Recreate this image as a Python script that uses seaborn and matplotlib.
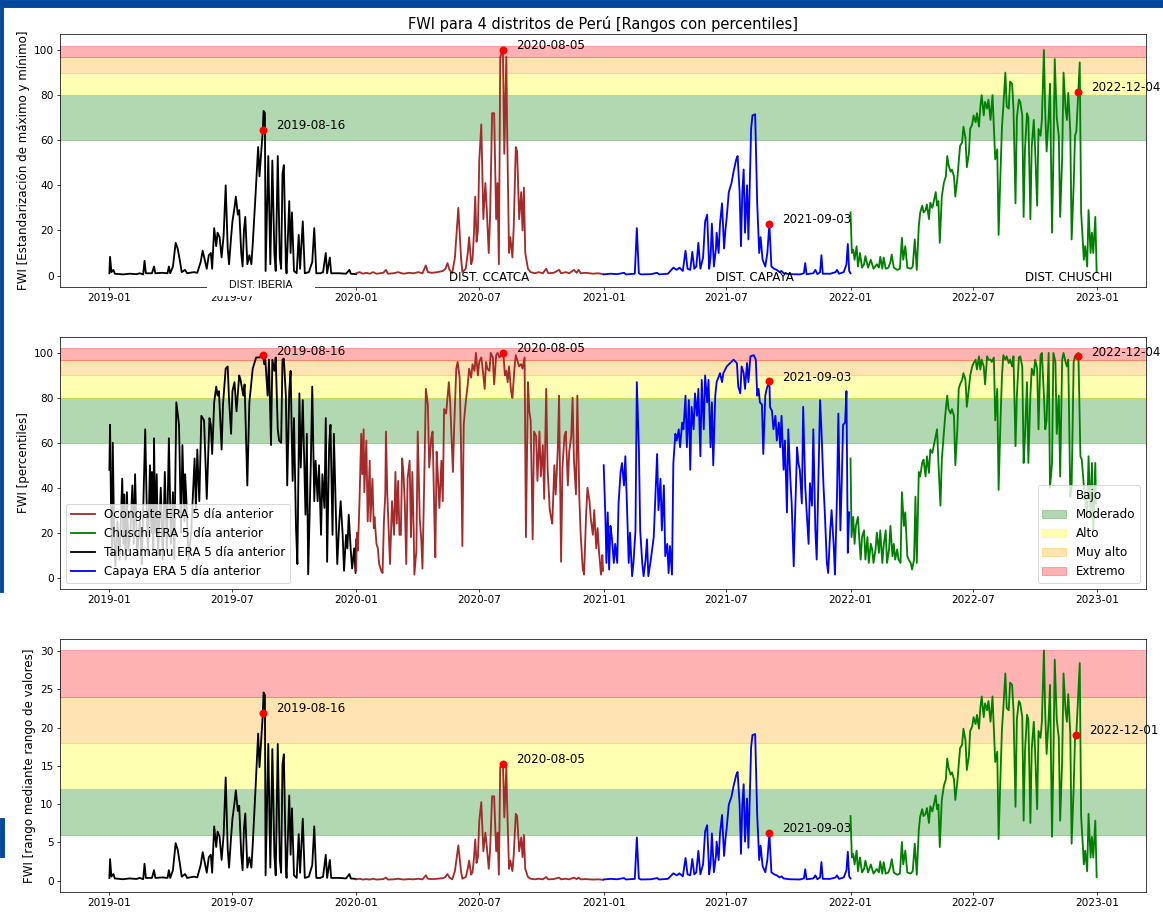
import pandas as pd
import numpy as np
import matplotlib
matplotlib.use('Agg')
import matplotlib.pyplot as plt
import matplotlib.dates as mdates
import seaborn as sns
from matplotlib.lines import Line2D
from matplotlib.patches import Rectangle

# ==================================================
# DATOS  -> (dia del anio, valor)
# ==================================================

distritos = ['Tahuamanu', 'Ocongate', 'Capaya', 'Chuschi']
anios = [2019, 2020, 2021, 2022]
colores = {'Tahuamanu': 'black', 'Ocongate': 'brown', 'Capaya': 'blue', 'Chuschi': 'green'}
fwi_max = [33.7, 15.3, 26.8, 30.1]   # FWI maximo por distrito (para rango de valores)

# FWI estandarizado (max-min) en %
tah_norm = [(0, 1), (1, 8.3), (3, 1.5), (6, 2.5), (8, 0.8), (20, 0.5), (30, 0.8), (40, 0.6), (45, 1),
            (50, 0.5), (52, 6.5), (54, 1), (63, 1), (66, 4), (68, 1), (78, 1.2), (86, 1), (88, 4), (90, 1),
            (94, 4), (98, 14.5), (101, 12), (104, 7), (107, 1.5), (112, 2.5), (115, 1), (125, 1.5),
            (130, 1.2), (135, 6), (138, 11), (141, 7), (144, 3), (147, 9), (150, 10), (152, 3), (155, 21),
            (158, 13), (160, 19), (163, 17), (166, 8), (169, 18), (172, 40), (175, 12), (177, 5), (180, 17),
            (182, 24), (185, 30), (187, 35), (190, 27), (192, 29), (195, 10), (197, 4), (199, 20), (201, 26),
            (204, 5), (207, 9), (210, 5), (212, 14), (216, 35), (220, 57), (222, 44), (227, 65), (228, 73),
            (230, 72), (231, 2), (235, 53), (238, 5), (241, 51), (244, 10), (246, 2), (249, 53), (252, 8),
            (254, 3), (256, 45), (258, 49), (261, 5), (262, 1), (266, 33), (268, 10), (270, 28), (273, 2),
            (277, 1), (280, 18), (282, 3), (286, 24), (289, 1), (295, 1.5), (300, 6), (303, 21), (306, 1),
            (312, 1), (316, 1.5), (320, 10), (322, 1), (326, 8), (328, 1), (340, 1), (350, 0.8), (355, 2.5),
            (357, 0.8), (365, 0.6)]
oco_norm = [(0, 1), (5, 1.5), (10, 0.8), (15, 1.2), (20, 0.8), (25, 1.5), (30, 0.8), (35, 1), (40, 1.2),
            (44, 2.5), (47, 0.8), (55, 1), (62, 1.5), (70, 0.8), (78, 1.2), (85, 1), (92, 1.5), (98, 1),
            (103, 4.5), (106, 1.5), (112, 1.2), (120, 1.5), (128, 2), (132, 3), (135, 5.5), (138, 2.5),
            (142, 1), (146, 8), (151, 30), (155, 8), (157, 1.5), (162, 3), (165, 10), (167, 17), (170, 5),
            (172, 7), (174, 18), (176, 35), (178, 15), (180, 20), (182, 51), (185, 67), (188, 25), (191, 41),
            (193, 30), (196, 10), (198, 26), (201, 72), (204, 72), (207, 25), (209, 41), (211, 5), (213, 97),
            (217, 100), (219, 54), (222, 97), (223, 69), (226, 10), (228, 17), (231, 8), (233, 22), (236, 57),
            (238, 55), (241, 25), (244, 37), (246, 20), (248, 39), (250, 10), (254, 3), (258, 1.5), (264, 1),
            (270, 1.5), (276, 1), (281, 3), (284, 1), (292, 1.2), (300, 2.5), (303, 1), (310, 1.5), (315, 1),
            (322, 2.5), (326, 1.2), (329, 2.5), (332, 1), (340, 1.2), (350, 0.8), (358, 1), (365, 0.6)]
cap_norm = [(0, 0.5), (10, 0.8), (20, 0.6), (30, 1.2), (33, 0.5), (46, 0.8), (49, 21), (52, 1), (55, 0.5),
            (70, 0.6), (79, 1.2), (82, 0.5), (95, 0.8), (100, 2.5), (103, 3.5), (108, 2.5), (112, 3.5),
            (117, 2), (121, 11), (124, 3), (128, 2.5), (131, 10.5), (134, 3), (137, 4), (140, 14.5), (143, 3),
            (147, 8), (150, 24), (153, 27), (156, 3), (158, 8), (160, 23), (163, 4), (166, 12), (167, 19),
            (170, 10), (172, 23), (175, 32), (178, 12), (180, 20), (182, 26), (185, 37), (189, 41), (192, 46),
            (196, 51.5), (198, 53), (201, 37), (203, 13), (205, 37), (207, 47), (209, 19), (212, 40), (214, 16),
            (216, 40), (218, 65), (220, 71), (224, 71.5), (227, 32), (230, 10), (232, 17), (235, 7), (239, 4),
            (242, 10), (245, 23), (248, 4), (252, 3), (256, 2.5), (260, 1.5), (263, 2), (266, 1), (275, 0.6),
            (290, 0.5), (296, 1), (298, 5.5), (300, 0.6), (310, 1), (313, 2.5), (316, 0.6), (320, 1.5),
            (322, 9), (324, 0.8), (335, 0.8), (343, 1.5), (345, 2.5), (348, 0.8), (355, 1.5), (359, 5),
            (361, 14), (363, 2), (365, 1)]
chu_norm = [(0, 28), (2, 10), (4, 11.5), (6, 7), (9, 13), (11, 4), (14, 10), (17, 3.5), (20, 5), (22, 8.6),
            (26, 3.5), (30, 7), (34, 3), (39, 5), (42, 3.5), (44, 8.3), (47, 3), (49, 8), (52, 3), (56, 3.5),
            (59, 6), (61, 9.3), (64, 3.5), (69, 2.5), (73, 3), (76, 16.7), (78, 7), (81, 13), (84, 3.5),
            (89, 3), (92, 4), (95, 16), (98, 2.5), (101, 22), (103, 27.8), (106, 31), (108, 28), (111, 29),
            (113, 31.5), (116, 25), (118, 32.3), (121, 30), (124, 34), (126, 37), (128, 31), (130, 33),
            (132, 14.5), (135, 35), (138, 41), (141, 44), (143, 53), (145, 49), (148, 46), (150, 47), (153, 44),
            (155, 35), (158, 43), (160, 50), (162, 57.5), (165, 59), (167, 66), (170, 61), (172, 48), (175, 54),
            (177, 65), (180, 67), (182, 71), (185, 68), (187, 72), (190, 66), (192, 75), (194, 80), (197, 71),
            (199, 77), (202, 74), (204, 78), (207, 69), (210, 80), (212, 66), (214, 51.5), (217, 56), (219, 18),
            (222, 48), (224, 66), (226, 75), (229, 90), (231, 75), (234, 74), (236, 86), (239, 85), (241, 74),
            (244, 32), (246, 70), (249, 78), (251, 77), (254, 71), (256, 26), (258, 56), (261, 72), (263, 70),
            (266, 25), (268, 57), (271, 69), (273, 56), (276, 31), (278, 65), (281, 62), (283, 69), (286, 100),
            (288, 72), (290, 55), (293, 70), (295, 85), (298, 19), (300, 52), (302, 96), (305, 70), (308, 62),
            (310, 26), (313, 52), (315, 90), (318, 74), (320, 69), (322, 81), (325, 64), (327, 16), (330, 40),
            (332, 62), (334, 64), (337, 82), (339, 94.5), (341, 28), (343, 18), (345, 7), (347, 13), (350, 4),
            (352, 29), (355, 10), (357, 19), (359, 10), (362, 26), (364, 1.5)]

# FWI en percentiles
tah_pct = [(0, 48), (1, 68), (2.5, 30), (4, 10), (5, 60), (7, 20), (9, 5), (12, 25), (15, 8), (19, 44),
           (21, 15), (22, 37), (24, 8), (26, 38), (28, 12), (31, 20), (34, 41), (36, 15), (38, 46), (41, 10),
           (45, 25), (48, 6), (53, 66), (55, 35), (57, 10), (60, 50), (62, 20), (63, 47), (65, 12), (66, 62),
           (68, 20), (70, 46), (72, 10), (76, 40), (79, 8), (82, 47), (85, 12), (88, 62), (91, 15), (94, 38),
           (96, 8), (99, 78), (103, 68), (106, 20), (108, 59), (111, 25), (112, 46), (114, 34), (117, 8),
           (121, 20), (126, 53), (128, 30), (130, 57), (133, 34), (136, 72), (140, 70), (144, 35), (148, 71),
           (150, 68), (152, 55), (155, 78), (158, 85), (160, 81), (162, 83), (166, 57), (168, 77), (172, 93),
           (175, 94), (177, 79), (180, 64), (182, 83), (185, 87), (188, 74), (192, 90), (194, 88), (198, 81),
           (200, 86), (204, 41), (207, 78), (212, 93), (217, 98), (222, 98), (227, 99), (229, 95), (230, 100),
           (234, 81), (236, 97), (239, 59), (241, 97), (244, 92), (246, 98), (249, 66), (251, 61), (254, 60),
           (256, 97), (258, 97.5), (261, 81), (263, 41), (266, 83), (268, 92), (271, 43), (273, 71), (276, 22),
           (278, 6), (281, 82), (283, 49), (286, 79), (290, 28), (292, 64), (294, 1.5), (298, 52), (300, 85),
           (303, 34), (305, 52), (308, 34), (310, 50), (313, 19), (315, 46), (318, 31), (320, 71), (322, 7),
           (325, 59), (327, 68), (330, 19), (332, 64), (335, 28), (337, 6), (340, 25), (342, 34), (345, 19),
           (347, 3), (350, 19), (352, 13), (354, 28), (357, 12), (359, 4), (362, 13), (364, 2), (365, 17)]
oco_pct = [(0, 3), (1, 20), (2.5, 12), (5, 35), (7.4, 64), (9, 46), (11, 66), (12, 38), (15, 61), (17, 25),
           (20, 52), (21, 25), (24, 44), (26, 22), (27, 27), (30, 15), (32, 13), (34, 6), (37, 3), (39, 2),
           (41, 25), (43, 37), (44, 65), (46, 37), (48, 22), (50, 6), (53, 34), (56, 19), (58, 47), (60, 24),
           (62, 43), (64, 19), (66, 19), (68, 53), (70, 46), (72, 32), (74, 6), (76, 44), (79, 52), (81, 18),
           (83, 47), (85, 21), (86, 1.3), (89, 12), (91, 65), (94, 26), (96, 18), (98, 4), (101, 49), (103, 84),
           (106, 77), (108, 49), (111, 62), (113, 65), (116, 21), (117, 9), (119, 56), (121, 44), (123, 31),
           (126, 52), (128, 34), (130, 75), (133, 73), (135, 80), (137, 87), (139, 78), (141, 62), (143, 47),
           (145, 68), (148, 93), (150, 96), (153, 89), (155, 59), (157, 14), (159, 68), (161, 75), (163, 81),
           (165, 86), (167, 93), (170, 89), (172, 95), (175, 92), (177, 100), (180, 90), (182, 96), (185, 98),
           (187, 93), (190, 84), (192, 96), (194, 93), (197, 92), (199, 100), (202, 98), (204, 86), (207, 99),
           (209, 100), (212, 98), (217, 100), (218, 98), (220, 90), (222, 92), (224, 87), (226, 94), (229, 83),
           (231, 80), (234, 93), (236, 99), (239, 96), (241, 94), (244, 95), (246, 93), (249, 98), (251, 18),
           (254, 87), (256, 74), (258, 70), (261, 17), (263, 65), (266, 63), (268, 43), (271, 65), (273, 45),
           (276, 59), (278, 35), (281, 84), (283, 49), (286, 31), (288, 27), (290, 24), (293, 50), (295, 37),
           (298, 56), (300, 81), (303, 7), (305, 49), (308, 63), (310, 65), (313, 41), (315, 56), (318, 63),
           (320, 80), (322, 52), (325, 37), (327, 81), (330, 35), (332, 19), (335, 4), (337, 1.3), (340, 28),
           (342, 40), (345, 34), (347, 26), (350, 19), (352, 30), (355, 13), (357, 22), (359, 12), (362, 1.3),
           (364, 10), (365, 3)]
cap_pct = [(0, 50), (2.5, 27), (4, 6.5), (6, 29), (8, 3.6), (10, 23), (12, 18), (15, 6.5), (17, 15),
           (20, 6.5), (22, 33), (25, 47), (27, 51), (30, 41), (32, 54), (34, 36), (37, 6.5), (39, 20),
           (42, 0.6), (44, 6.5), (47, 21), (49, 87), (52, 58), (54, 21), (57, 6.5), (59, 0.6), (62, 8),
           (64, 17), (66, 0.6), (69, 6.5), (71, 11), (74, 18), (76, 33), (79, 55), (81, 30), (84, 44), (86, 21),
           (89, 41), (91, 9.5), (94, 15), (96, 2), (98, 14), (101, 1.3), (103, 51), (106, 64), (108, 61),
           (111, 66), (113, 58), (116, 69), (118, 66), (121, 81), (123, 58), (126, 79), (128, 48), (130, 76),
           (133, 66), (135, 82), (138, 72), (140, 84), (143, 54), (145, 88), (148, 66), (150, 90), (153, 78),
           (155, 88), (158, 58), (160, 78), (162, 50), (165, 81), (167, 87), (172, 91), (175, 87), (177, 91),
           (182, 94), (187, 95.5), (192, 97), (197, 95.5), (199, 85), (202, 82), (204, 94), (207, 91), (209, 84),
           (212, 95.5), (214, 87), (217, 98.5), (222, 99), (225, 97), (227, 81), (229, 84), (231, 78), (234, 77),
           (236, 55), (239, 81), (241, 84), (245, 87.4), (246, 76), (249, 74), (251, 66), (254, 72), (256, 61),
           (259, 69), (261, 58), (263, 72), (266, 48), (268, 61), (271, 29), (273, 66), (276, 44), (278, 33),
           (281, 5), (283, 27), (286, 58), (288, 51), (290, 48), (293, 33), (295, 76), (298, 41), (300, 30),
           (303, 15), (305, 42), (308, 32), (310, 66), (313, 21), (315, 8), (318, 51), (320, 79), (322, 66),
           (325, 41), (327, 29), (330, 6.5), (332, 2), (335, 21), (337, 30), (340, 15), (342, 1.3), (345, 36),
           (347, 73), (350, 21), (352, 42), (354, 68), (357, 69), (359, 83), (361, 11), (363, 29)]
chu_pct = [(0, 53), (1.5, 18), (4, 27), (6, 15), (8, 23), (11, 27), (13, 17), (15, 8), (17, 18), (20, 21),
           (22, 8), (25, 18), (27, 6.5), (30, 15), (32, 12.5), (34, 6.5), (37, 12.5), (39, 20), (42, 11),
           (44, 21), (47, 6.5), (49, 14), (52, 21), (54, 6.5), (57, 12.5), (59, 23), (62, 9.5), (64, 15),
           (66, 8), (69, 12.5), (71, 8), (74, 6.5), (76, 38), (79, 23), (81, 29), (84, 9.5), (86, 8), (89, 6.5),
           (91, 3.6), (94, 8), (96, 36), (98, 6.5), (101, 47), (103, 45), (106, 51), (108, 52.5), (111, 45),
           (113, 54), (116, 46.6), (118, 57), (121, 55.5), (123, 58.5), (126, 63), (128, 66), (130, 51),
           (133, 32), (135, 52.5), (138, 64), (140, 72), (143, 81), (145, 75), (148, 73), (150, 75), (153, 72),
           (155, 50), (158, 66), (160, 84), (162, 86), (165, 88), (167, 91), (170, 88), (172, 76), (175, 84),
           (177, 90), (180, 94), (182, 95.5), (185, 97), (187, 92.6), (190, 98.5), (192, 92.6), (194, 97),
           (197, 94), (199, 86), (202, 98.5), (204, 97), (207, 97), (209, 96), (212, 98), (214, 70), (217, 84),
           (219, 39), (222, 72), (224, 90), (226, 99), (229, 97), (231, 98.5), (234, 95.5), (236, 97), (239, 94),
           (241, 98.5), (244, 58.5), (246, 81), (249, 98), (251, 98.5), (254, 94), (256, 51), (258, 63),
           (261, 87), (263, 51), (266, 81), (268, 93), (271, 90), (273, 97), (276, 93), (278, 66), (281, 99),
           (283, 100), (286, 81), (288, 66), (290, 70), (293, 100), (295, 40), (298, 51), (300, 100), (303, 96),
           (305, 64), (308, 81), (310, 45), (313, 97), (315, 100), (318, 96), (320, 94), (322, 97), (325, 36),
           (327, 41), (330, 96), (332, 98.5), (335, 98.5), (337, 100), (340, 54), (342, 52.5), (345, 41),
           (347, 36), (350, 27), (352, 54), (355, 27), (357, 51), (359, 21), (362, 51), (363, 33)]

# maximos marcados
fechas_max = ['2019-08-16', '2020-08-05', '2021-09-03', '2022-12-04']
fechas_max_rango = ['2019-08-16', '2020-08-05', '2021-09-03', '2022-12-01']
max_norm = [64.6, 100, 23, 81.5]
max_pct = [99, 100, 87.4, 98.5]
max_rango = [21.9, 15.3, 6.2, 19.1]

# niveles de peligro
niveles = ['Bajo', 'Moderado', 'Alto', 'Muy alto', 'Extremo']
colores_niv = ['white', 'green', 'yellow', 'orange', 'red']
limites_pct = [0, 60, 80, 90, 97, 102]
limites_rango = [0, 6, 12, 18, 24, 30.1]

etiquetas_dist = ['DIST. CCATCA', 'DIST. CAPAYA', 'DIST. CHUSCHI']
fechas_dist = ['2020-07-16', '2021-08-13', '2022-11-19']


def armar(series, escala=None):
    partes = []
    for i, (nombre, anio, pares) in enumerate(zip(distritos, anios, series)):
        df = pd.DataFrame(pares, columns=['dia', 'valor'])
        df['fecha'] = pd.Timestamp(f'{anio}-01-01') + pd.to_timedelta(df['dia'], unit='D')
        if escala is not None:
            df['valor'] = df['valor'] * escala[i] / 100
        df['distrito'] = nombre
        partes.append(df)
    return pd.concat(partes, ignore_index=True)


df_norm = armar([tah_norm, oco_norm, cap_norm, chu_norm])
df_pct = armar([tah_pct, oco_pct, cap_pct, chu_pct])
df_rango = armar([tah_norm, oco_norm, cap_norm, chu_norm], escala=fwi_max)

# ==================================================
# FIGURA
# ==================================================

fig, axes = plt.subplots(3, 1, figsize=(1163 / 66, 917 / 66), dpi=66)
posiciones = [[0.0516, 0.687, 0.9338, 0.2759],
              [0.0516, 0.3577, 0.9338, 0.2748],
              [0.0516, 0.0273, 0.9338, 0.2759]]

paneles = [
    (df_norm, limites_pct, fechas_max, max_norm, 'FWI [Estandarización de máximo y mínimo]', (-5.1, 107.1), 20),
    (df_pct, limites_pct, fechas_max, max_pct, 'FWI [percentiles]', (-5.1, 107.1), 20),
    (df_rango, limites_rango, fechas_max_rango, max_rango, 'FWI [rango mediante rango de valores]', (-1.5, 31.6), 5),
]

bandas_leyenda = []
for k, (ax, pos, (df, lim, fechas, vals, ylab, ylim, paso)) in enumerate(zip(axes, posiciones, paneles)):
    ax.set_position(pos)

    for j in range(5):
        b = ax.axhspan(lim[j], lim[j + 1], color=colores_niv[j], alpha=0.3)
        if k == 1:
            bandas_leyenda.append(b)

    sns.lineplot(data=df, x='fecha', y='valor', hue='distrito', palette=colores,
                 estimator=None, sort=False, linewidth=2, legend=False, ax=ax)

    fx = pd.to_datetime(fechas)
    sns.scatterplot(x=fx, y=vals, color='red', s=75, linewidth=0, zorder=3, ax=ax)
    for f, fd, v in zip(fechas, fx, vals):
        ax.annotate(f, (fd, v), xytext=(14, 4.5), textcoords='offset points',
                    va='center', fontsize=13)

    ax.set_xlim(pd.Timestamp('2018-10-20'), pd.Timestamp('2023-03-14'))
    ax.set_ylim(*ylim)
    ax.set_yticks(np.arange(0, lim[-1] + 0.1, paso))
    ax.xaxis.set_major_locator(mdates.MonthLocator(bymonth=[1, 7]))
    ax.xaxis.set_major_formatter(mdates.DateFormatter('%Y-%m'))
    ax.tick_params(labelsize=11.5)
    ax.set_xlabel('')
    ax.set_ylabel(ylab, fontsize=13)

axes[0].set_title('FWI para 4 distritos de Perú [Rangos con percentiles]', fontsize=16)

for txt, f in zip(etiquetas_dist, fechas_dist):
    axes[0].text(pd.Timestamp(f), -1, txt, ha='center', va='center', fontsize=13)

# leyendas del panel de percentiles
lineas = [Line2D([], [], color=colores[d], lw=2) for d in ['Ocongate', 'Chuschi', 'Tahuamanu', 'Capaya']]
nombres = [f'{d} ERA 5 día anterior' for d in ['Ocongate', 'Chuschi', 'Tahuamanu', 'Capaya']]
leg1 = axes[1].legend(lineas, nombres, loc='lower left', fontsize=13)
axes[1].add_artist(leg1)
axes[1].legend(bandas_leyenda, niveles, loc='lower right', fontsize=13)

# recuadro pegado "DIST. IBERIA"
fig.add_artist(Rectangle((207 / 1163, 1 - 296 / 917), 108 / 1163, 19 / 917,
                         transform=fig.transFigure, facecolor='white', edgecolor='none', zorder=5))
fig.text(261 / 1163, 1 - 285 / 917, 'DIST. IBERIA', ha='center', va='center', fontsize=11.5,
         family=['Liberation Sans', 'DejaVu Sans'], zorder=6)

# marco azul de la diapositiva
azul = '#00479d'
fig.add_artist(Rectangle((0, 1 - 7 / 917), 1, 7 / 917, transform=fig.transFigure, color=azul, zorder=10))
fig.add_artist(Rectangle((0, 1 - 592 / 917), 3 / 1163, 592 / 917, transform=fig.transFigure, color=azul, zorder=10))
fig.add_artist(Rectangle((0, 1 - 857 / 917), 4 / 1163, 39 / 917, transform=fig.transFigure, color=azul, zorder=10))

fig.savefig('out.png', dpi=66)
